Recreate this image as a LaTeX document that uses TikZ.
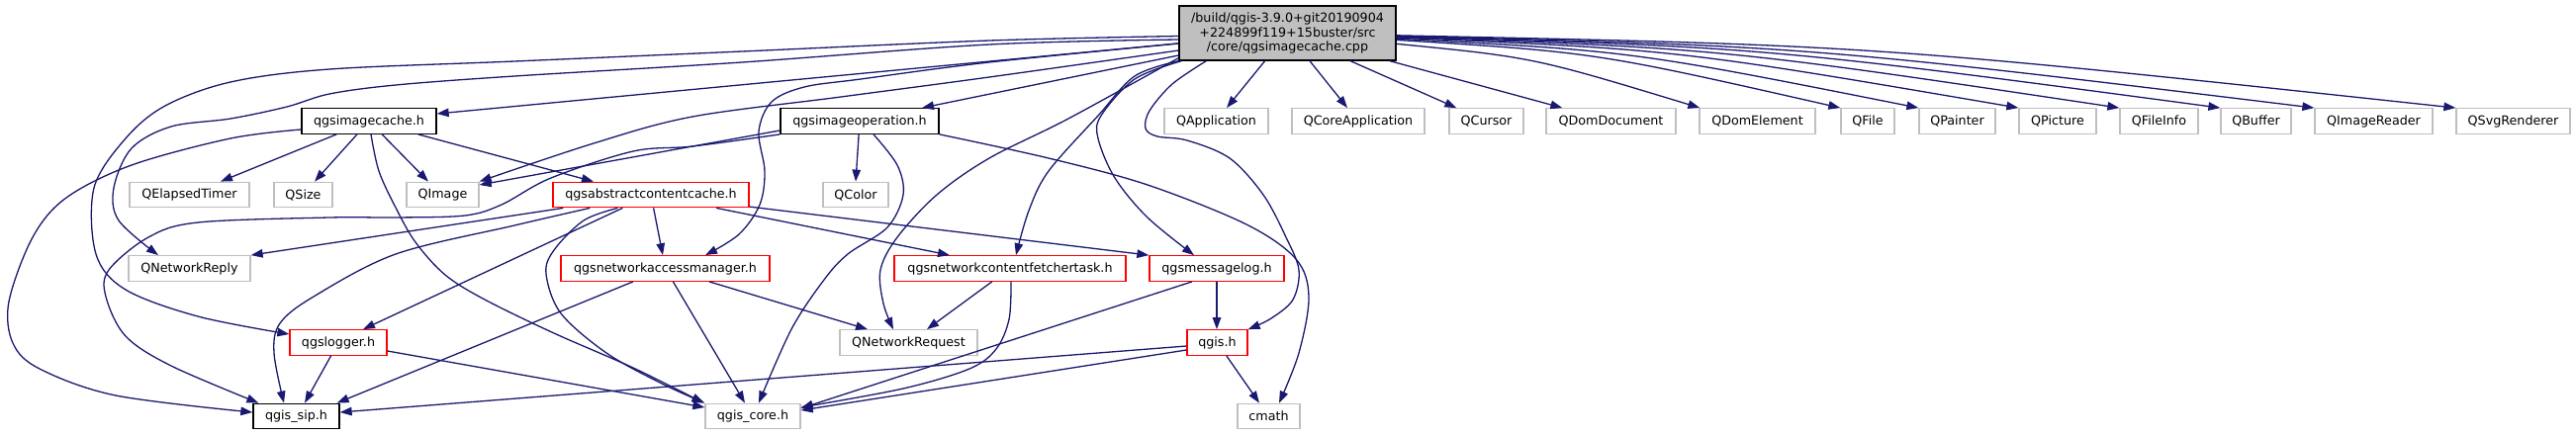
\documentclass[tikz,border=0pt]{standalone}
\usepackage{fontspec}
\setmainfont{DejaVu Sans}
\usetikzlibrary{arrows.meta}
\definecolor{edgec}{HTML}{191970}
\definecolor{greyb}{HTML}{BFBFBF}
\definecolor{redb}{HTML}{FF0000}
\begin{document}
\begin{tikzpicture}[x=1pt,y=-1pt,
  nb/.style={rectangle, inner sep=0pt, minimum height=25.5pt, line width=1.3pt, font=\fontsize{12.7}{14.7}\selectfont, text=black, align=center},
  blackbox/.style={nb, draw=black},
  redbox/.style={nb, draw=redb},
  greybox/.style={nb, draw=greyb},
  mainbox/.style={nb, draw=black, fill=greyb, minimum width=219pt, minimum height=55pt},
  edge/.style={draw=edgec, line width=1.3pt, -{Triangle[length=12pt,width=8.5pt]}},
  sm/.style={smooth, tension=0.55}]
\path[use as bounding box, fill=white] (0,0) rectangle (2604,440);

% main
\node[mainbox] (main) at (1301.5,33.5) {/build/qgis-3.9.0+git20190904\\+224899f119+15buster/src\\/core/qgsimagecache.cpp};

% row 1
\node[blackbox, minimum width=136pt] (cache) at (373,122.5) {qgsimagecache.h};
\node[blackbox, minimum width=160pt] (imgop) at (869,122.5) {qgsimageoperation.h};
\node[greybox, minimum width=105pt] (QApplication) at (1229.5,122.5) {QApplication};
\node[greybox, minimum width=134pt] (QCoreApplication) at (1373,122.5) {QCoreApplication};
\node[greybox, minimum width=75pt] (QCursor) at (1502.5,122.5) {QCursor};
\node[greybox, minimum width=131pt] (QDomDocument) at (1628.5,122.5) {QDomDocument};
\node[greybox, minimum width=117pt] (QDomElement) at (1776.5,122.5) {QDomElement};
\node[greybox, minimum width=54pt] (QFile) at (1888,122.5) {QFile};
\node[greybox, minimum width=77pt] (QPainter) at (1978.5,122.5) {QPainter};
\node[greybox, minimum width=78pt] (QPicture) at (2080,122.5) {QPicture};
\node[greybox, minimum width=79pt] (QFileInfo) at (2182.5,122.5) {QFileInfo};
\node[greybox, minimum width=71pt] (QBuffer) at (2280.5,122.5) {QBuffer};
\node[greybox, minimum width=119pt] (QImageReader) at (2399.5,122.5) {QImageReader};
\node[greybox, minimum width=115pt] (QSvgRenderer) at (2540.5,122.5) {QSvgRenderer};

% row 2
\node[greybox, minimum width=121pt] (QElapsedTimer) at (191.5,197) {QElapsedTimer};
\node[greybox, minimum width=59pt] (QSize) at (306.5,197) {QSize};
\node[greybox, minimum width=73pt] (QImage) at (447.5,197) {QImage};
\node[redbox, minimum width=198pt] (abstract) at (658,197) {qgsabstractcontentcache.h};
\node[greybox, minimum width=66pt] (QColor) at (865,197) {QColor};

% row 3
\node[greybox, minimum width=123pt] (QNetworkReply) at (191.5,271.5) {QNetworkReply};
\node[redbox, minimum width=211pt] (nam) at (672.5,271.5) {qgsnetworkaccessmanager.h};
\node[redbox, minimum width=234pt] (fetch) at (1021,271.5) {qgsnetworkcontentfetchertask.h};
\node[redbox, minimum width=136pt] (msglog) at (1230,271.5) {qgsmessagelog.h};

% row 4
\node[redbox, minimum width=98pt] (logger) at (342,346.5) {qgslogger.h};
\node[greybox, minimum width=139pt] (QNetworkRequest) at (918.5,346.5) {QNetworkRequest};
\node[redbox, minimum width=61pt] (qgis) at (1230.5,346.5) {qgis.h};

% row 5
\node[blackbox, minimum width=87pt] (sip) at (299.5,421) {qgis\_sip.h};
\node[greybox, minimum width=96pt] (core) at (761,421) {qgis\_core.h};
\node[greybox, minimum width=63pt] (cmath) at (1282.5,421) {cmath};

% ---- edges from main
\draw[edge] (main) -- ([yshift=7.5pt]cache.east);
\draw[edge] (main) -- ([xshift=63pt]imgop.north);
\draw[edge] plot[sm] coordinates {([yshift=-17.5pt]main.west) (1000,78) (850,98) (700,118) (600,145) (QImage.north east)};
\draw[edge] (main) -- ([xshift=10.5pt]QApplication.north);
\draw[edge] (main) -- ([xshift=-11pt]QCoreApplication.north);
\draw[edge] (main) -- ([xshift=8pt]QCursor.north west);
\draw[edge] (main) -- ([xshift=17pt]QDomDocument.north west);
\draw[edge] (main) .. controls (1550,58) .. ([xshift=1pt]QDomElement.north west);
\draw[edge] (main) .. controls (1613,53) .. (QFile.north west);
\draw[edge] (main) .. controls (1649,51.5) .. (QPainter.north west);
\draw[edge] (main) .. controls (1694,50) .. (QPicture.north west);
\draw[edge] (main) .. controls (1740,49) .. (QFileInfo.north west);
\draw[edge] (main) .. controls (1786,48) .. (QBuffer.north west);
\draw[edge] (main) .. controls (1829,47) .. (QImageReader.north west);
\draw[edge] (main) .. controls (1894,46) .. (QSvgRenderer.north west);

\draw[edge] plot[sm] coordinates {([yshift=-3pt]main.west) (1000,41) (750,52) (520,62) (333,70) (233,83) (167,107) (127,140) (95,190) (97,257) (127,293) (200,320) ([yshift=8.5pt]logger.west)};
\draw[edge] plot[sm] coordinates {([yshift=-6.5pt]main.west) (1000,45) (750,63) (520,77) (400,86) (333,95) (290,108) (233,120) (173,128) (133,150) (115,190) (120,223) ([xshift=-31.5pt]QNetworkReply.north)};
\draw[edge] plot[sm] coordinates {([yshift=-10.5pt]main.west) (1000,63) (870,80) (813,88) (780,103) (767,133) (773,173) (768,207) (747,237) ([xshift=40.5pt]nam.north)};
\draw[edge] plot[sm] coordinates {([yshift=3pt]main.south west) (1080,120) (1000,160) (947,197) (907,240) (890,273) (893,307) ([xshift=-15.5pt]QNetworkRequest.north)};
\draw[edge] plot[sm] coordinates {(main.south west) (1147,77) (1110,117) (1060,173) (1040,213) ([xshift=6pt]fetch.north)};
\draw[edge] plot[sm] coordinates {([xshift=3pt]main.south west) (1147,80) (1113,117) (1110,140) (1127,180) (1160,220) ([xshift=-23pt]msglog.north)};
\draw[edge] plot[sm] coordinates {([xshift=28pt]main.south west) (1185,85) (1162,112) (1158,130) (1170,138) (1200,142) (1243,160) (1277,197) (1300,240) (1313,273) (1307,303) (1285,322) (qgis.north east)};

% ---- edges from qgsimagecache.h
\draw[edge] (cache) -- ([xshift=31.5pt]QElapsedTimer.north);
\draw[edge] (cache) -- ([xshift=11.5pt]QSize.north);
\draw[edge] (cache) -- ([xshift=-14.5pt]QImage.north);
\draw[edge] (cache) -- ([xshift=-58pt]abstract.north);
\draw[edge] plot[sm] coordinates {([xshift=2pt]cache.south) (383,173) (400,210) (420,245) (450,278) (490,303) (560,337) (640,372) ([xshift=-1pt]core.north west)};
\draw[edge] plot[sm] coordinates {([yshift=-8.5pt]cache.west) (233,140) (133,167) (67,200) (33,240) (9,305) (13,347) (40,373) (117,400) ([yshift=4pt]sip.west)};

% ---- edges from qgsimageoperation.h
\draw[edge] ([yshift=-9.5pt]imgop.west) -- ([yshift=10pt]QImage.east);
\draw[edge] plot[sm] coordinates {(imgop.south west) (700,148) (640,153) (557,180) (507,207) (470,218) (400,220) (333,220) (200,225) (150,240) (110,273) (107,300) (127,340) (173,370) ([xshift=6pt]sip.north west)};
\draw[edge] (imgop) -- (QColor.north);
\draw[edge] plot[sm] coordinates {([xshift=14pt]imgop.south) (907,167) (913,197) (897,230) (857,257) (833,283) (800,333) ([xshift=6pt]core.north)};
\draw[edge] plot[sm] coordinates {(imgop.south east) (1060,160) (1160,187) (1260,227) (1310,262) (1323,300) (1313,357) ([xshift=10.5pt]cmath.north)};

% ---- edges from qgsabstractcontentcache.h
\draw[edge] (abstract) -- (QNetworkReply.north east);
\draw[edge] (abstract) -- ([xshift=-2.5pt]nam.north);
\draw[edge] (abstract) -- ([xshift=25pt]logger.north);
\draw[edge] plot[sm] coordinates {([xshift=38pt]abstract.south west) (520,228) (400,257) (317,300) (283,327) (277,357) ([xshift=-12.5pt]sip.north)};
\draw[edge] plot[sm] coordinates {([xshift=66pt]abstract.south west) (590,223) (560,253) (552,277) (567,317) (613,357) (667,387) (core.north west)};
\draw[edge] (abstract) -- ([xshift=-61pt]fetch.north);
\draw[edge] (abstract) -- (msglog.north west);

% ---- edges from qgsnetworkaccessmanager.h
\draw[edge] (nam) -- ([xshift=-3pt]sip.north east);
\draw[edge] (nam) -- ([xshift=-8pt]core.north);
\draw[edge] (nam) -- ([xshift=-41.5pt]QNetworkRequest.north);

% ---- edges from qgsnetworkcontentfetchertask.h
\draw[edge] (fetch) -- ([xshift=18.5pt]QNetworkRequest.north);
\draw[edge] plot[sm] coordinates {([xshift=1pt]fetch.south) (1020,323) (1007,353) (980,373) (913,393) ([yshift=9pt]core.east)};

% ---- edges from qgsmessagelog.h
\draw[edge] (msglog.south) -- (msglog.south |- qgis.north);
\draw[edge] ([xshift=-25pt]msglog.south) -- ([yshift=8pt]core.east);

% ---- edges from qgis.h
\draw[edge] (qgis) -- ([xshift=-9.5pt]cmath.north);
\draw[edge] ([yshift=-3.5pt]qgis.west) -- ([yshift=4pt]sip.east);
\draw[edge] ([yshift=-7.5pt]qgis.west) -- ([yshift=6pt]core.east);

% ---- edges from qgslogger.h
\draw[edge] (logger) -- ([xshift=8.5pt]sip.north);
\draw[edge] ([yshift=-8.5pt]logger.east) -- ([yshift=9pt]core.west);
\end{tikzpicture}
\end{document}
